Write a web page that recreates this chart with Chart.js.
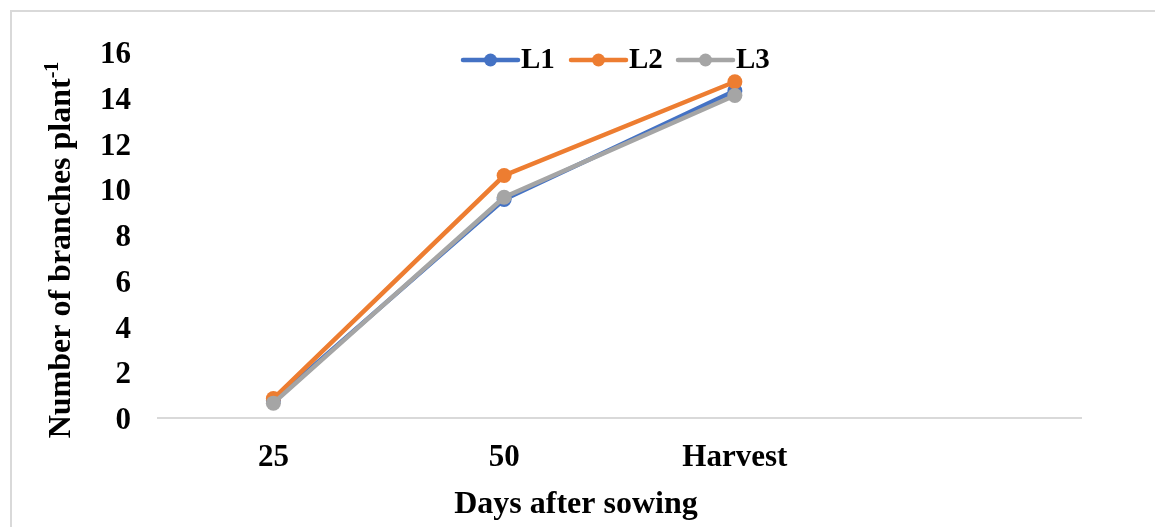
<!DOCTYPE html>
<html>
<head>
<meta charset="utf-8">
<script src="https://cdn.jsdelivr.net/npm/chart.js@4.4.1/dist/chart.umd.min.js"></script>
<style>
  html, body { margin: 0; padding: 0; background: #ffffff; }
  #wrap { width: 1155px; height: 527px; position: relative; }
</style>
</head>
<body>
<div id="wrap"><canvas id="chart" width="1155" height="527"></canvas></div>
<script>
// Sampling stages (the fourth slot is left empty on purpose)
const stages = ['25', '50', 'Harvest', ''];
const seriesNames = ['L1', 'L2', 'L3'];
const l1Values = [0.75, 9.55, 14.3];
const l2Values = [0.85, 10.6, 14.7];
const l3Values = [0.65, 9.65, 14.1];
const yTicks = [0, 2, 4, 6, 8, 10, 12, 14, 16];

const colors = ['#4472C4', '#ED7D31', '#A5A5A5'];
const FONT = "'Liberation Serif', 'Times New Roman', serif";

function lineSet(label, data, color, order) {
  return {
    label, data, order,
    borderColor: color,
    backgroundColor: color,
    borderWidth: 4.5,
    pointRadius: 7.5,
    pointHoverRadius: 7.5,
    pointBorderWidth: 0,
    pointBackgroundColor: color,
    tension: 0,
    fill: false
  };
}

// Frame, axis titles and the in-plot legend
const decorations = {
  id: 'decorations',
  beforeDraw(chart) {
    const ctx = chart.ctx;
    ctx.save();
    ctx.strokeStyle = '#d9d9d9';
    ctx.lineWidth = 2;
    ctx.beginPath();
    ctx.moveTo(11, 527);
    ctx.lineTo(11, 11);
    ctx.lineTo(1155, 11);
    ctx.stroke();
    ctx.restore();
  },
  afterDraw(chart) {
    const ctx = chart.ctx;
    ctx.save();
    ctx.fillStyle = '#000000';

    // X axis title
    ctx.font = 'bold 32px ' + FONT;
    ctx.textAlign = 'center';
    ctx.textBaseline = 'middle';
    ctx.fillText('Days after sowing', 576, 505);

    // Y axis title with superscript
    const main = 'Number of branches plant';
    const sup = '-1';
    ctx.translate(59, 250);
    ctx.rotate(-Math.PI / 2);
    ctx.font = 'bold 32px ' + FONT;
    const wMain = ctx.measureText(main).width;
    ctx.font = 'bold 20px ' + FONT;
    const wSup = ctx.measureText(sup).width;
    const start = -(wMain + wSup) / 2;
    ctx.textAlign = 'left';
    ctx.textBaseline = 'alphabetic';
    ctx.font = 'bold 32px ' + FONT;
    ctx.fillText(main, start, 11);
    ctx.font = 'bold 20px ' + FONT;
    ctx.fillText(sup, start + wMain, -1);
    ctx.restore();

    // Legend
    ctx.save();
    const legendX = [463, 571, 678];
    const ly = 60;
    chart.data.datasets.forEach((ds, i) => {
      const x0 = legendX[i];
      ctx.strokeStyle = ds.borderColor;
      ctx.lineWidth = 4.5;
      ctx.lineCap = 'round';
      ctx.beginPath();
      ctx.moveTo(x0, ly);
      ctx.lineTo(x0 + 55, ly);
      ctx.stroke();
      ctx.fillStyle = ds.borderColor;
      ctx.beginPath();
      ctx.arc(x0 + 27.5, ly, 6.5, 0, Math.PI * 2);
      ctx.fill();
      ctx.fillStyle = '#000000';
      ctx.font = 'bold 29px ' + FONT;
      ctx.textAlign = 'left';
      ctx.textBaseline = 'middle';
      ctx.fillText(ds.label, x0 + 58, ly + 1);
    });
    ctx.restore();
  }
};

new Chart(document.getElementById('chart'), {
  type: 'line',
  data: {
    labels: stages,
    datasets: [
      lineSet(seriesNames[0], l1Values, colors[0], 3),
      lineSet(seriesNames[1], l2Values, colors[1], 2),
      lineSet(seriesNames[2], l3Values, colors[2], 1)
    ]
  },
  options: {
    responsive: false,
    animation: false,
    events: [],
    layout: { padding: { left: 0, right: 74, top: 52, bottom: 0 } },
    plugins: {
      legend: { display: false },
      tooltip: { enabled: false },
      title: { display: false }
    },
    scales: {
      x: {
        type: 'category',
        offset: true,
        grid: { display: false, drawTicks: false },
        border: { display: true, color: '#d9d9d9', width: 2 },
        ticks: {
          color: '#000000',
          font: { family: FONT, size: 31, weight: 'bold' },
          padding: 21,
          maxRotation: 0,
          autoSkip: false
        },
        afterFit(scale) { scale.height = 109; }
      },
      y: {
        min: 0,
        max: 16,
        afterBuildTicks(scale) { scale.ticks = yTicks.map(v => ({ value: v })); },
        grid: { display: false, drawTicks: false },
        border: { display: false },
        ticks: {
          color: '#000000',
          font: { family: FONT, size: 31, weight: 'bold' },
          padding: 27,
          labelOffset: 3
        },
        afterFit(scale) { scale.width = 158; }
      }
    }
  },
  plugins: [decorations]
});
</script>
</body>
</html>
